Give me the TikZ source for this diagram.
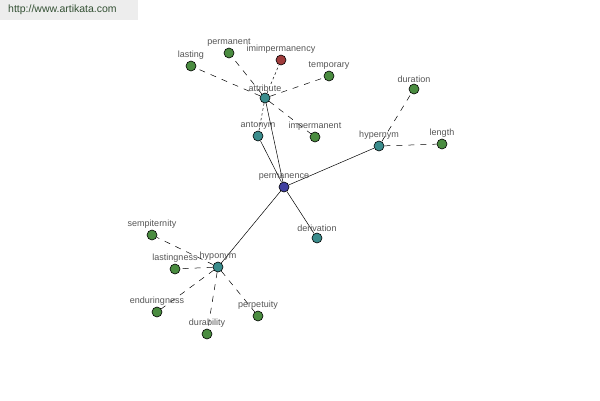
\documentclass[tikz,border=0pt]{standalone}
\usepackage{fontspec}
\setmainfont{Liberation Sans}
\usetikzlibrary{backgrounds}
\definecolor{wgreen}{HTML}{4A8C40}
\definecolor{wteal}{HTML}{3A8C8C}
\definecolor{wred}{HTML}{A03C3C}
\definecolor{wblue}{HTML}{4040A0}
\definecolor{lblgray}{HTML}{555555}
\tikzset{
  dot/.style={circle, draw=black, line width=0.6pt, minimum size=10pt, inner sep=0pt},
  word/.style={dot, fill=wgreen},
  rel/.style={dot, fill=wteal},
  lbl/.style={font=\fontsize{9}{10}\selectfont, text=lblgray, inner sep=1pt},
  every label/.style={lbl},
  link/.style={draw=black, line width=0.5pt},
  dsh/.style={link, dash pattern=on 6pt off 6pt},
  dtt/.style={link, dash pattern=on 2.5pt off 2.5pt},
}
\begin{document}
\begin{tikzpicture}[x=1pt, y=-1pt, label distance=0pt]
  \useasboundingbox (0,0) rectangle (600,400);
  % ---- header ----
  \node[fill=black!7, minimum width=138pt, minimum height=20pt, inner xsep=8pt,
        anchor=north west, text width=122pt, align=left,
        font=\fontsize{10.5}{12}\selectfont, text=black!65!green!40!black!80] (site) at (0,0) {http://www.artikata.com};
  % ---- centre ----
  \node[dot, fill=wblue, label=above:permanence] (perm) at (284,187) {};
  % ---- relations ----
  \node[rel, label=above:attribute] (attr) at (265,98) {};
  \node[rel, label=above:antonym] (ant) at (258,136) {};
  \node[rel, label=above:hypernym] (hyper) at (379,146) {};
  \node[rel, label=above:derivation] (deriv) at (317,238) {};
  \node[rel, label=above:hyponym] (hypo) at (218,267) {};
  % ---- words ----
  \node[word, label=above:lasting] (lasting) at (191,66) {};
  \node[word, label=above:permanent] (permanent) at (229,53) {};
  \node[dot, fill=wred, label=above:imimpermanency] (imimp) at (281,60) {};
  \node[word, label=above:temporary] (temp) at (329,76) {};
  \node[word, label=above:impermanent] (imperm) at (315,137) {};
  \node[word, label=above:duration] (dur) at (414,89) {};
  \node[word, label=above:length] (len) at (442,144) {};
  \node[word, label=above:sempiternity] (semp) at (152,235) {};
  \node[word, label=above:lastingness] (lastn) at (175,269) {};
  \node[word, label=above:enduringness] (endur) at (157,312) {};
  \node[word, label=above:durability] (durab) at (207,334) {};
  \node[word, label=above:perpetuity] (perp) at (258,316) {};
  % ---- links ----
  \begin{scope}[on background layer]
    \foreach \b in {attr,ant,hyper,deriv,hypo} \draw[link] (perm)--(\b);
    \foreach \a/\b in {attr/ant,attr/imimp} \draw[dtt] (\a)--(\b);
    \foreach \a/\b in {attr/lasting,attr/permanent,attr/temp,attr/imperm,
                       hyper/dur,hyper/len,hypo/semp,hypo/lastn,hypo/endur,
                       hypo/durab,hypo/perp} \draw[dsh] (\a)--(\b);
  \end{scope}
\end{tikzpicture}
\end{document}
